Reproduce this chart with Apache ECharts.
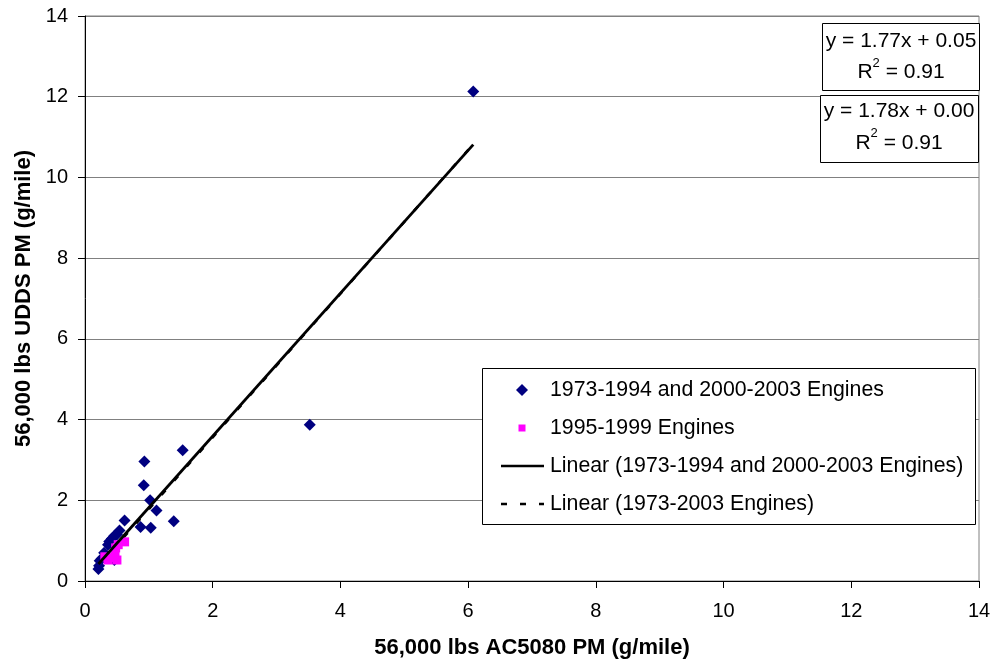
<!DOCTYPE html>
<html><head><meta charset="utf-8">
<script src="https://cdn.jsdelivr.net/npm/echarts@6/dist/echarts.min.js"></script>
<style>html,body{margin:0;padding:0;background:#fff}#c{width:995px;height:664px}</style>
</head><body><div id="c"></div>
<script>
const seriesNames = ['1973-1994 and 2000-2003 Engines','1995-1999 Engines','Linear (1973-1994 and 2000-2003 Engines)','Linear (1973-2003 Engines)'];
const blueData = [[6.08,12.13],[3.52,3.87],[1.53,3.24],[0.93,2.96],[0.92,2.37],[1.02,2.0],[1.12,1.75],[1.39,1.48],[0.87,1.34],[1.03,1.32],[0.62,1.5],[0.54,1.25],[0.5,1.15],[0.46,1.12],[0.42,1.05],[0.38,0.98],[0.36,0.9],[0.3,0.7],[0.26,0.55],[0.23,0.5],[0.22,0.38],[0.21,0.3],[0.46,0.52]];
const pinkData = [[0.62,0.97],[0.52,0.9],[0.48,0.82],[0.47,0.68],[0.5,0.52],[0.36,0.52],[0.31,0.6],[0.42,0.58]];
const fit1 = {slope:1.77, intercept:0.05, r2:0.91};
const fit2 = {slope:1.78, intercept:0.00, r2:0.91};
const axisTicks = [0,2,4,6,8,10,12,14];
const xTitle = '56,000 lbs AC5080 PM (g/mile)';
const yTitle = '56,000 lbs UDDS PM (g/mile)';

function fitLine(pts, f){
  const xs = pts.map(p=>p[0]);
  const a = Math.min(...xs), b = Math.max(...xs);
  return [[a, f.slope*a+f.intercept],[b, f.slope*b+f.intercept]];
}
const line1 = fitLine(blueData, fit1);
const line2 = fitLine(blueData.concat(pinkData), fit2);
function eq(f){ return 'y = '+f.slope.toFixed(2)+'x + '+f.intercept.toFixed(2)+'\nR{sup|2} = '+f.r2.toFixed(2); }

const FONT = 'Liberation Sans, Arial, sans-serif';
const chart = echarts.init(document.getElementById('c'));
const axisCommon = {
  type:'value', min:axisTicks[0], max:axisTicks[axisTicks.length-1], interval:2,
  axisLine:{show:true, lineStyle:{color:'#000', width:1}},
  axisTick:{show:true, inside:false, length:7, lineStyle:{color:'#000'}},
  axisLabel:{color:'#000', fontSize:20, fontFamily:FONT},
  nameLocation:'middle',
  nameTextStyle:{color:'#000', fontSize:22, fontWeight:'bold', fontFamily:FONT}
};
const supStyle = {fontSize:13, fontFamily:FONT, fill:'#000', verticalAlign:'top', lineHeight:31, padding:[0,0,12,0]};
const legendFont = '21.3px '+FONT;
const lgX = 482, lgY = 368, lgRows = [390, 428, 466, 504];
chart.setOption({
  animation:false,
  backgroundColor:'#fff',
  grid:{left:85, right:16, top:16, bottom:83, show:true, borderColor:'#808080', borderWidth:1},
  xAxis:Object.assign({}, axisCommon, {name:xTitle, nameGap:56, splitLine:{show:false}, axisLabel:Object.assign({}, axisCommon.axisLabel, {margin:20})}),
  yAxis:Object.assign({}, axisCommon, {name:yTitle, nameGap:43, splitLine:{show:true, lineStyle:{color:'#808080', width:1}}, axisLabel:Object.assign({}, axisCommon.axisLabel, {margin:17})}),
  series:[
    {name:seriesNames[3], type:'line', data:line2, symbol:'none', z:3,
      lineStyle:{color:'#000', width:2.5, type:[6,13]}},
    {name:seriesNames[0], type:'scatter', data:blueData, symbol:'diamond', symbolSize:12, z:4,
      itemStyle:{color:'#000080', opacity:1}},
    {name:seriesNames[1], type:'scatter', data:pinkData, symbol:'rect', symbolSize:9, z:5,
      itemStyle:{color:'#ff00ff', opacity:1}},
    {name:seriesNames[2], type:'line', data:line1, symbol:'none', z:6,
      lineStyle:{color:'#000', width:2.8}}
  ],
  graphic:[
    {type:'rect', shape:{x:822.5, y:23.5, width:157, height:67}, style:{fill:'#fff', stroke:'#000', lineWidth:1}, z:10},
    {type:'text', x:901, y:26, z:11, style:{text:eq(fit1), textAlign:'center', fill:'#000', font:'21px '+FONT, lineHeight:31, rich:{sup:supStyle}}},
    {type:'rect', shape:{x:820.5, y:95.5, width:158, height:67}, style:{fill:'#fff', stroke:'#000', lineWidth:1}, z:10},
    {type:'text', x:899, y:95, z:11, style:{text:eq(fit2), textAlign:'center', fill:'#000', font:'21px '+FONT, lineHeight:32, rich:{sup:supStyle}}},
    // legend
    {type:'rect', shape:{x:lgX+0.5, y:lgY+0.5, width:493, height:156}, style:{fill:'#fff', stroke:'#000', lineWidth:1}, z:10},
    {type:'polygon', shape:{points:[[522,lgRows[0]-6],[528,lgRows[0]],[522,lgRows[0]+6],[516,lgRows[0]]]}, style:{fill:'#000080'}, z:11},
    {type:'rect', shape:{x:518.5, y:lgRows[1]-3.5, width:7, height:7}, style:{fill:'#ff00ff'}, z:11},
    {type:'line', shape:{x1:501, y1:lgRows[2], x2:544, y2:lgRows[2]}, style:{stroke:'#000', lineWidth:2.5}, z:11},
    {type:'line', shape:{x1:501, y1:lgRows[3], x2:544, y2:lgRows[3]}, style:{stroke:'#000', lineWidth:2.5, lineDash:[6,13]}, z:11},
    {type:'text', x:550, y:lgRows[0], z:11, style:{text:seriesNames[0], font:legendFont, fill:'#000', textVerticalAlign:'middle'}},
    {type:'text', x:550, y:lgRows[1], z:11, style:{text:seriesNames[1], font:legendFont, fill:'#000', textVerticalAlign:'middle'}},
    {type:'text', x:550, y:lgRows[2], z:11, style:{text:seriesNames[2], font:legendFont, fill:'#000', textVerticalAlign:'middle'}},
    {type:'text', x:550, y:lgRows[3], z:11, style:{text:seriesNames[3], font:legendFont, fill:'#000', textVerticalAlign:'middle'}}
  ]
});
</script></body></html>
